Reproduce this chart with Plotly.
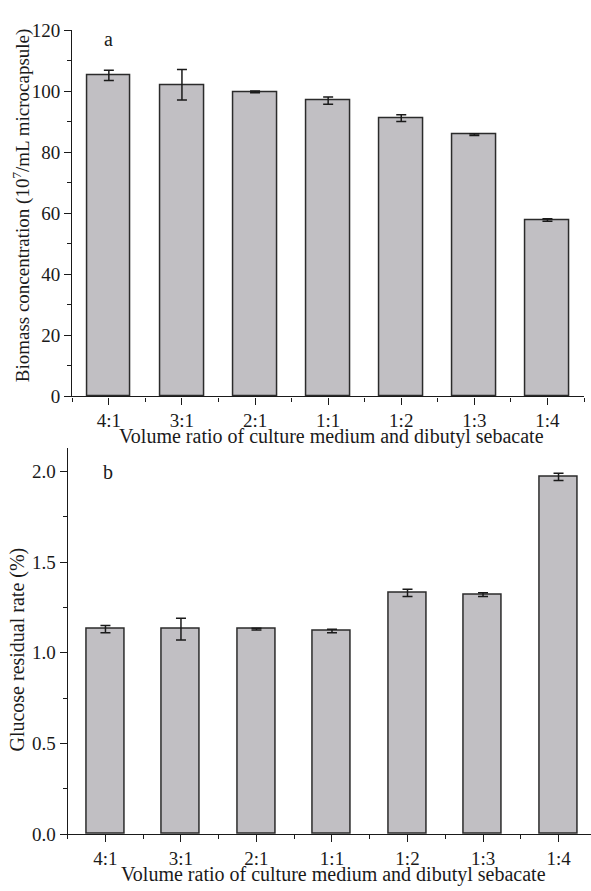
import plotly.graph_objects as go

# Volume ratio of culture medium to dibutyl sebacate
categories = ["4:1", "3:1", "2:1", "1:1", "1:2", "1:3", "1:4"]

# (a) biomass concentration, 10^7 / mL microcapsule
biomass = [105.2, 102.1, 99.8, 96.9, 91.2, 85.8, 57.8]
biomass_err = [1.7, 5.0, 0.3, 1.2, 1.1, 0.3, 0.4]

# (b) glucose residual rate, %
glucose = [1.13, 1.13, 1.13, 1.12, 1.33, 1.32, 1.97]
glucose_err = [0.02, 0.06, 0.005, 0.01, 0.02, 0.01, 0.02]

W, H = 591, 891
FONT = "Liberation Serif"
INK = "#1a1a1a"
BAR_FILL = "#c1bfc3"
BAR_EDGE = "#2b2b2b"
FS = 20
TICK_FS = 19

xpos = list(range(len(categories)))
bounds = [i - 0.5 for i in range(len(categories) + 1)]


def px(x):
    return x / W


def py(y):
    return 1 - y / H


fig = go.Figure()

fig.add_trace(go.Bar(
    x=xpos, y=biomass, width=0.6,
    marker=dict(color=BAR_FILL, line=dict(color=BAR_EDGE, width=1.5)),
    error_y=dict(type="data", array=biomass_err, visible=True,
                 color=INK, thickness=1.5, width=5),
    xaxis="x", yaxis="y", showlegend=False,
))

fig.add_trace(go.Bar(
    x=xpos, y=glucose, width=0.5,
    marker=dict(color=BAR_FILL, line=dict(color=BAR_EDGE, width=1.5)),
    error_y=dict(type="data", array=glucose_err, visible=True,
                 color=INK, thickness=1.5, width=5),
    xaxis="x2", yaxis="y2", showlegend=False,
))

axis_common = dict(
    showgrid=False, zeroline=False, showline=True,
    linecolor=INK, linewidth=1.3,
    ticks="outside", ticklen=7, tickwidth=1.3, tickcolor=INK,
    tickfont=dict(family=FONT, size=TICK_FS, color=INK),
)

fig.update_layout(
    width=W, height=H,
    margin=dict(l=0, r=0, t=0, b=0),
    paper_bgcolor="white", plot_bgcolor="white",
    bargap=0,
    xaxis=dict(
        **axis_common,
        domain=[px(72.3), px(584)], range=[-0.5, 6.5],
        tickmode="array", tickvals=xpos, ticktext=categories,
        minor=dict(tickmode="array", tickvals=bounds, ticks="outside",
                   ticklen=4, tickwidth=1.3, tickcolor=INK),
        anchor="y",
    ),
    yaxis=dict(
        **axis_common,
        domain=[py(395.7), py(20.7)], range=[0, 120],
        tickmode="linear", tick0=0, dtick=20,
        minor=dict(dtick=10, ticks="outside", ticklen=4,
                   tickwidth=1.3, tickcolor=INK),
        anchor="x",
    ),
    xaxis2=dict(
        **axis_common,
        domain=[px(67.7), 1.0], range=[-0.5, 6.43],
        tickmode="array", tickvals=xpos, ticktext=categories,
        minor=dict(tickmode="array", tickvals=bounds, ticks="outside",
                   ticklen=4, tickwidth=1.3, tickcolor=INK),
        anchor="y2",
    ),
    yaxis2=dict(
        **axis_common,
        domain=[py(844), py(448.3)], range=[0, 2.13],
        tickmode="linear", tick0=0, dtick=0.5, tickformat=".1f",
        minor=dict(dtick=0.25, ticks="outside", ticklen=4,
                   tickwidth=1.3, tickcolor=INK),
        anchor="x2",
    ),
)

xtitle = "Volume ratio of culture medium and dibutyl sebacate"


def font(size):
    return dict(family=FONT, size=size, color=INK)


annotations = [
    dict(text="a", x=px(108), y=py(30), font=font(FS)),
    dict(text="b", x=px(108), y=py(473), font=font(FS)),
    dict(text=xtitle, x=px(331), y=py(437), font=font(FS)),
    dict(text=xtitle, x=px(333), y=py(885), font=font(FS)),
    dict(text="Biomass concentration (10<sup>7</sup>/mL microcapsule)",
         x=px(21), y=py(200), textangle=-90, font=font(19)),
    dict(text="Glucose residual rate (%)",
         x=px(18), y=py(655), textangle=-90, font=font(FS)),
]
for a in annotations:
    fig.add_annotation(xref="paper", yref="paper", showarrow=False,
                       xanchor="center", yanchor="middle", **a)

fig.write_html("out.html")
